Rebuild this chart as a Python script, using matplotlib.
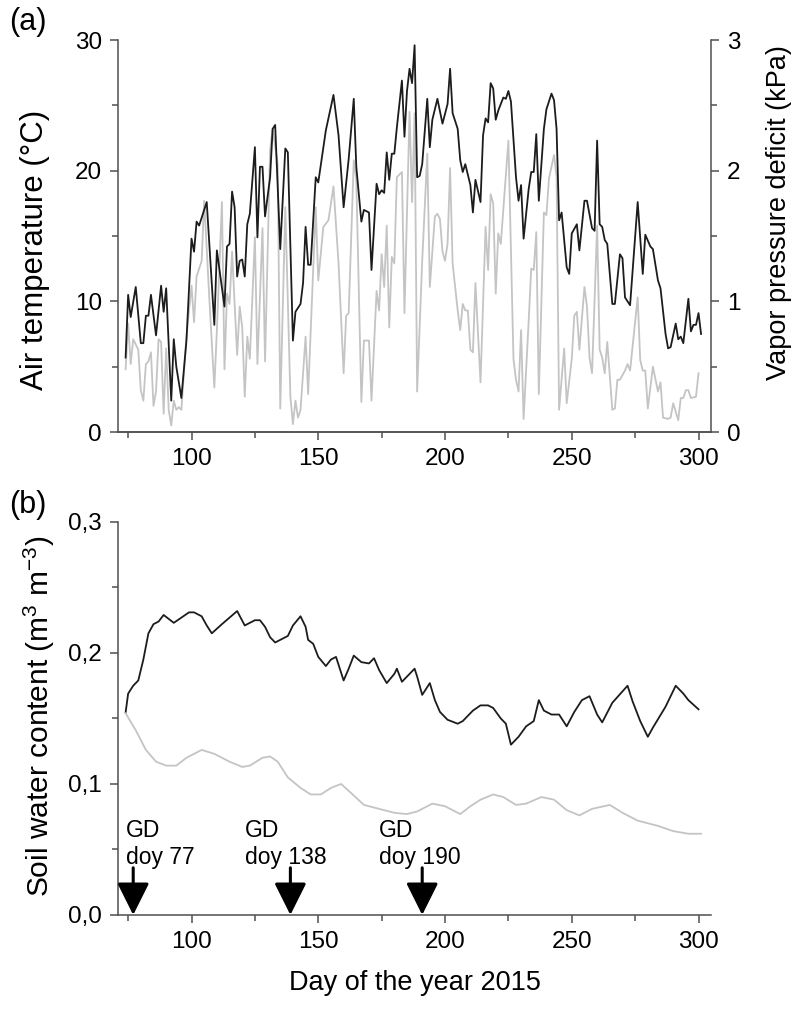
import matplotlib
matplotlib.use("Agg")
import matplotlib.pyplot as plt
from matplotlib.ticker import MultipleLocator, FuncFormatter

plt.rcParams['font.family'] = ['Liberation Sans', 'DejaVu Sans']
plt.rcParams['mathtext.fontset'] = 'custom'
plt.rcParams['mathtext.rm'] = 'Liberation Sans'
plt.rcParams['mathtext.it'] = 'Liberation Sans'

# (a) air temperature, daily means (°C)
temp_day = [74, 75, 76, 78, 80, 81, 82, 83, 84, 86, 88, 89, 90, 92, 93, 94, 96, 98,
            100, 101, 102, 103, 106, 109, 110, 113, 114, 115, 116, 117, 118, 119, 120,
            121, 122, 123, 125, 126, 127, 128, 129, 131, 132, 133, 135, 137, 138, 140,
            141, 143, 144, 145, 146, 147, 149, 150, 153, 156, 158, 160, 162, 164, 165,
            167, 168, 170, 171, 173, 174, 175, 176, 177, 178, 179, 180, 181, 183, 184,
            185, 186, 187, 188, 189, 190, 191, 193, 194, 195, 197, 199, 201, 202, 203,
            205, 206, 207, 208, 210, 211, 212, 214, 215, 216, 217, 218, 219, 220, 221,
            223, 224, 225, 226, 228, 229, 230, 231, 233, 234, 235, 236, 237, 239, 240,
            242, 243, 244, 245, 246, 248, 249, 250, 252, 253, 255, 256, 258, 259, 260,
            261, 262, 263, 264, 266, 267, 269, 270, 271, 273, 276, 278, 279, 281, 282,
            284, 285, 287, 288, 289, 291, 292, 293, 294, 296, 297, 298, 299, 300, 301]
temp = [5.7, 10.5, 8.8, 11.1, 6.8, 6.8, 8.9, 8.9, 10.5, 7.4, 11.2, 9.2, 11.0, 2.4, 7.1, 5.0, 2.6, 7.0,
        14.8, 13.8, 16.1, 15.8, 17.6, 8.2, 13.9, 9.6, 14.2, 14.4, 18.4, 17.2, 11.9, 13.1, 13.2,
        11.9, 15.9, 16.7, 21.8, 14.9, 20.3, 20.3, 16.5, 19.5, 23.2, 23.5, 14.0, 21.7, 21.4, 7.0,
        9.2, 9.8, 11.4, 15.7, 12.8, 12.8, 19.5, 19.1, 23.1, 25.8, 22.7, 17.2, 20.9, 25.5, 20.3,
        16.1, 17.0, 16.8, 12.4, 19.0, 18.2, 18.5, 18.3, 21.4, 19.3, 21.3, 21.3, 23.3, 26.9, 22.6,
        26.1, 27.8, 26.7, 29.6, 19.5, 19.6, 20.5, 25.5, 21.8, 23.9, 25.5, 23.6, 25.1, 27.8, 24.4,
        23.2, 20.8, 19.9, 20.5, 18.9, 16.8, 19.3, 17.6, 22.7, 24.0, 23.7, 26.7, 26.3, 23.9, 24.6,
        25.6, 25.5, 26.1, 25.3, 19.5, 17.7, 18.9, 14.8, 18.6, 19.9, 19.9, 22.8, 17.7, 23.2, 24.7,
        25.9, 25.4, 23.2, 16.2, 16.8, 12.6, 12.1, 15.2, 15.9, 13.9, 17.7, 17.7, 15.6, 15.4, 22.3,
        15.9, 15.7, 14.7, 14.4, 9.8, 9.8, 13.6, 13.3, 10.3, 9.7, 17.6, 12.1, 15.1, 14.2, 14.0,
        11.6, 11.0, 7.5, 6.4, 6.5, 8.3, 7.1, 7.3, 6.8, 10.2, 7.7, 8.2, 8.2, 9.1, 7.5]

# (a) vapor pressure deficit (kPa)
vpd_day = [74, 75, 76, 77, 79, 80, 81, 82, 83, 84, 85, 86, 87, 88, 89, 90, 91, 92, 93, 94, 95, 96,
           98, 100, 101, 102, 104, 105, 107, 109, 110, 112, 113, 114, 115, 116, 118, 119, 120,
           121, 122, 123, 125, 126, 128, 129, 131, 132, 134, 135, 137, 139, 140, 141, 142, 143,
           145, 146, 149, 150, 152, 154, 156, 158, 160, 161, 162, 164, 165, 167, 168, 170, 171,
           173, 174, 175, 176, 177, 178, 179, 180, 181, 183, 184, 186, 187, 188, 189, 191, 193,
           194, 196, 197, 198, 199, 200, 201, 202, 203, 205, 206, 207, 208, 209, 210, 211, 212,
           214, 216, 217, 218, 219, 220, 221, 222, 225, 227, 228, 229, 230, 231, 233, 234, 235,
           236, 237, 239, 240, 241, 243, 244, 245, 247, 248, 250, 251, 252, 253, 255, 256, 257,
           258, 260, 261, 262, 263, 264, 266, 267, 268, 269, 271, 272, 273, 276, 277, 278, 279,
           280, 282, 284, 285, 286, 288, 289, 290, 292, 293, 294, 295, 296, 297, 299, 300]
vpd = [0.48, 0.83, 0.52, 0.71, 0.63, 0.32, 0.24, 0.52, 0.54, 0.61, 0.20, 0.31, 0.71, 0.69, 0.14, 0.64,
       0.17, 0.05, 0.24, 0.17, 0.19, 0.17,
       0.73, 1.12, 0.84, 1.19, 1.31, 1.77, 1.03, 0.34, 0.78, 1.76, 0.48, 1.06, 0.98, 1.38, 0.59, 0.96,
       0.80, 0.27, 0.73, 0.56, 1.49, 0.52, 1.56, 0.54, 2.16, 2.32, 2.05, 0.18, 1.72, 0.27, 0.06, 0.24,
       0.11, 0.17, 0.73, 0.29, 1.72, 1.16, 1.57, 1.62, 1.88, 1.29, 0.45, 0.89, 0.91, 2.08, 1.93, 0.23,
       0.70, 0.70, 0.24, 1.08, 0.93, 1.36, 1.11, 1.58, 0.80, 1.34, 1.29, 1.95, 1.99, 0.91, 2.45, 1.76,
       2.44, 0.31, 1.31, 2.13, 1.11, 1.65, 1.67, 1.63, 1.38, 1.31, 1.44, 2.02, 1.29, 0.93, 0.78, 0.98,
       0.93, 0.93, 0.63, 0.61, 1.14, 0.38, 1.57, 1.24, 1.82, 1.75, 1.06, 1.52, 1.44, 2.23, 0.56, 0.40,
       0.31, 0.78, 0.10, 0.85, 1.25, 1.24, 1.53, 0.29, 1.68, 1.66, 1.94, 2.12, 1.95, 0.17, 0.64, 0.22,
       0.56, 0.89, 0.92, 0.63, 1.11, 0.96, 0.57, 0.45, 1.58, 0.63, 0.57, 0.45, 0.69, 0.17, 0.18, 0.40,
       0.40, 0.47, 0.52, 0.47, 1.03, 0.55, 0.47, 0.47, 0.18, 0.50, 0.31, 0.38, 0.11, 0.10, 0.11, 0.22,
       0.09, 0.26, 0.26, 0.32, 0.32, 0.26, 0.27, 0.45]

# (b) soil water content, two treatments (m3 m-3)
swc_day = [74, 75, 77, 79, 81, 83, 85, 87, 89, 91, 93, 96, 99, 101, 104, 106, 108, 112, 115, 118,
           121, 125, 127, 129, 131, 133, 135, 138, 140, 143, 145, 146, 148, 150, 153, 155, 157, 160,
           162, 164, 167, 170, 172, 174, 177, 180, 181, 183, 186, 188, 189, 191, 194, 196, 198, 201,
           205, 207, 211, 214, 217, 219, 222, 224, 226, 229, 232, 235, 237, 239, 242, 245, 248, 251,
           254, 257, 260, 262, 266, 272, 274, 277, 280, 282, 287, 291, 294, 296, 300]
swc_black = [0.1545, 0.169, 0.175, 0.179, 0.195, 0.215, 0.222, 0.224, 0.229, 0.226, 0.223, 0.227,
             0.231, 0.231, 0.228, 0.221, 0.215, 0.222, 0.227, 0.232, 0.221, 0.225, 0.225, 0.220,
             0.212, 0.208, 0.210, 0.213, 0.221, 0.228, 0.220, 0.210, 0.207, 0.197, 0.190, 0.195,
             0.197, 0.179, 0.188, 0.198, 0.193, 0.192, 0.196, 0.187, 0.177, 0.184, 0.188, 0.178,
             0.184, 0.188, 0.182, 0.168, 0.177, 0.164, 0.155, 0.149, 0.146, 0.148, 0.156, 0.160,
             0.160, 0.158, 0.150, 0.146, 0.130, 0.136, 0.144, 0.148, 0.164, 0.156, 0.153, 0.153,
             0.144, 0.155, 0.164, 0.167, 0.153, 0.147, 0.162, 0.175, 0.163, 0.148, 0.136, 0.143,
             0.159, 0.175, 0.169, 0.164, 0.157]
swc_gray_day = [74, 78, 82, 86, 90, 94, 98, 104, 109, 115, 120, 123, 128, 131, 134, 138, 143, 147,
                151, 155, 159, 163, 168, 174, 180, 185, 189, 195, 200, 206, 210, 214, 219, 223,
                228, 232, 238, 243, 248, 253, 258, 265, 270, 276, 284, 290, 296, 301]
swc_gray = [0.154, 0.141, 0.126, 0.117, 0.114, 0.114, 0.120, 0.126, 0.123, 0.117, 0.113, 0.114,
            0.120, 0.121, 0.117, 0.105, 0.097, 0.092, 0.092, 0.097, 0.100, 0.093, 0.084, 0.081,
            0.078, 0.077, 0.079, 0.085, 0.083, 0.077, 0.083, 0.088, 0.092, 0.090, 0.084, 0.085,
            0.090, 0.088, 0.080, 0.076, 0.081, 0.084, 0.078, 0.072, 0.068, 0.064, 0.062, 0.062]

# girdling dates
gd_doy = [77, 138, 190]
gd_arrow_x = [77, 139, 191]
gd_text_x = [74, 121, 174]

dark = '#1c1c1c'
light = '#c4c4c4'
spine_c = '#505050'

fig = plt.figure(figsize=(8, 10.11), dpi=100)
ax1 = fig.add_axes([0.1475, 0.5727, 0.7415, 0.3877])
ax2 = ax1.twinx()
ax3 = fig.add_axes([0.1475, 0.095, 0.7415, 0.3887])

ax1.plot(temp_day, temp, color=dark, lw=1.3, zorder=3)
ax2.plot(vpd_day, vpd, color=light, lw=1.3, zorder=1)
ax1.set_zorder(ax2.get_zorder() + 1)
ax1.patch.set_visible(False)

ax3.plot(swc_day, swc_black, color=dark, lw=1.3)
ax3.plot(swc_gray_day, swc_gray, color=light, lw=1.3)

for d, tx, lab in zip(gd_arrow_x, gd_text_x, gd_doy):
    ax3.annotate('', xy=(d, 0.0), xytext=(d, 0.036),
                 arrowprops=dict(arrowstyle='-|>,head_width=0.45,head_length=0.9',
                                 color='black', lw=2.2, mutation_scale=22,
                                 shrinkA=0, shrinkB=0))
    ax3.text(tx, 0.073, 'GD\ndoy %d' % lab, fontsize=16.5, ha='left', va='top',
             linespacing=1.2)

comma = FuncFormatter(lambda v, p: ('%.1f' % v).replace('.', ','))

for ax in (ax1, ax2, ax3):
    ax.set_xlim(71, 305)
    for s in ax.spines.values():
        s.set_color(spine_c)
        s.set_linewidth(1.1)
    ax.spines['top'].set_visible(False)
    ax.tick_params(which='both', direction='out', color=spine_c, width=1.1,
                   labelsize=17.5, colors='black')
    ax.tick_params(which='major', length=5.5, pad=6)
    ax.tick_params(which='minor', length=4)
    ax.xaxis.set_major_locator(MultipleLocator(50))
    ax.xaxis.set_minor_locator(MultipleLocator(25))

ax1.spines['right'].set_visible(False)
ax2.spines['left'].set_visible(False)
ax3.spines['right'].set_visible(False)

ax1.set_ylim(0, 30)
ax1.yaxis.set_major_locator(MultipleLocator(10))
ax1.yaxis.set_minor_locator(MultipleLocator(5))
ax2.set_ylim(0, 3)
ax2.yaxis.set_major_locator(MultipleLocator(1))
ax2.yaxis.set_minor_locator(MultipleLocator(0.5))
ax3.set_ylim(0, 0.3)
ax3.yaxis.set_major_locator(MultipleLocator(0.1))
ax3.yaxis.set_minor_locator(MultipleLocator(0.05))
ax3.yaxis.set_major_formatter(comma)

ax1.set_ylabel('Air temperature (°C)', fontsize=22.5)
ax1.yaxis.set_label_coords(-0.115, 0.465)
ax2.set_ylabel('Vapor pressure deficit (kPa)', fontsize=19.5)
ax2.yaxis.set_label_coords(1.092, 0.56)
ax3.set_ylabel('Soil water content (m$^{3}$ m$^{-3}$)', fontsize=21.5)
ax3.yaxis.set_label_coords(-0.102, 0.505)
ax3.set_xlabel('Day of the year 2015', fontsize=19.5, labelpad=12)

fig.text(0.012, 0.978, '(a)', fontsize=22, va='center', ha='left')
fig.text(0.012, 0.5, '(b)', fontsize=22, va='center', ha='left')

fig.savefig('out.png', dpi=100)
